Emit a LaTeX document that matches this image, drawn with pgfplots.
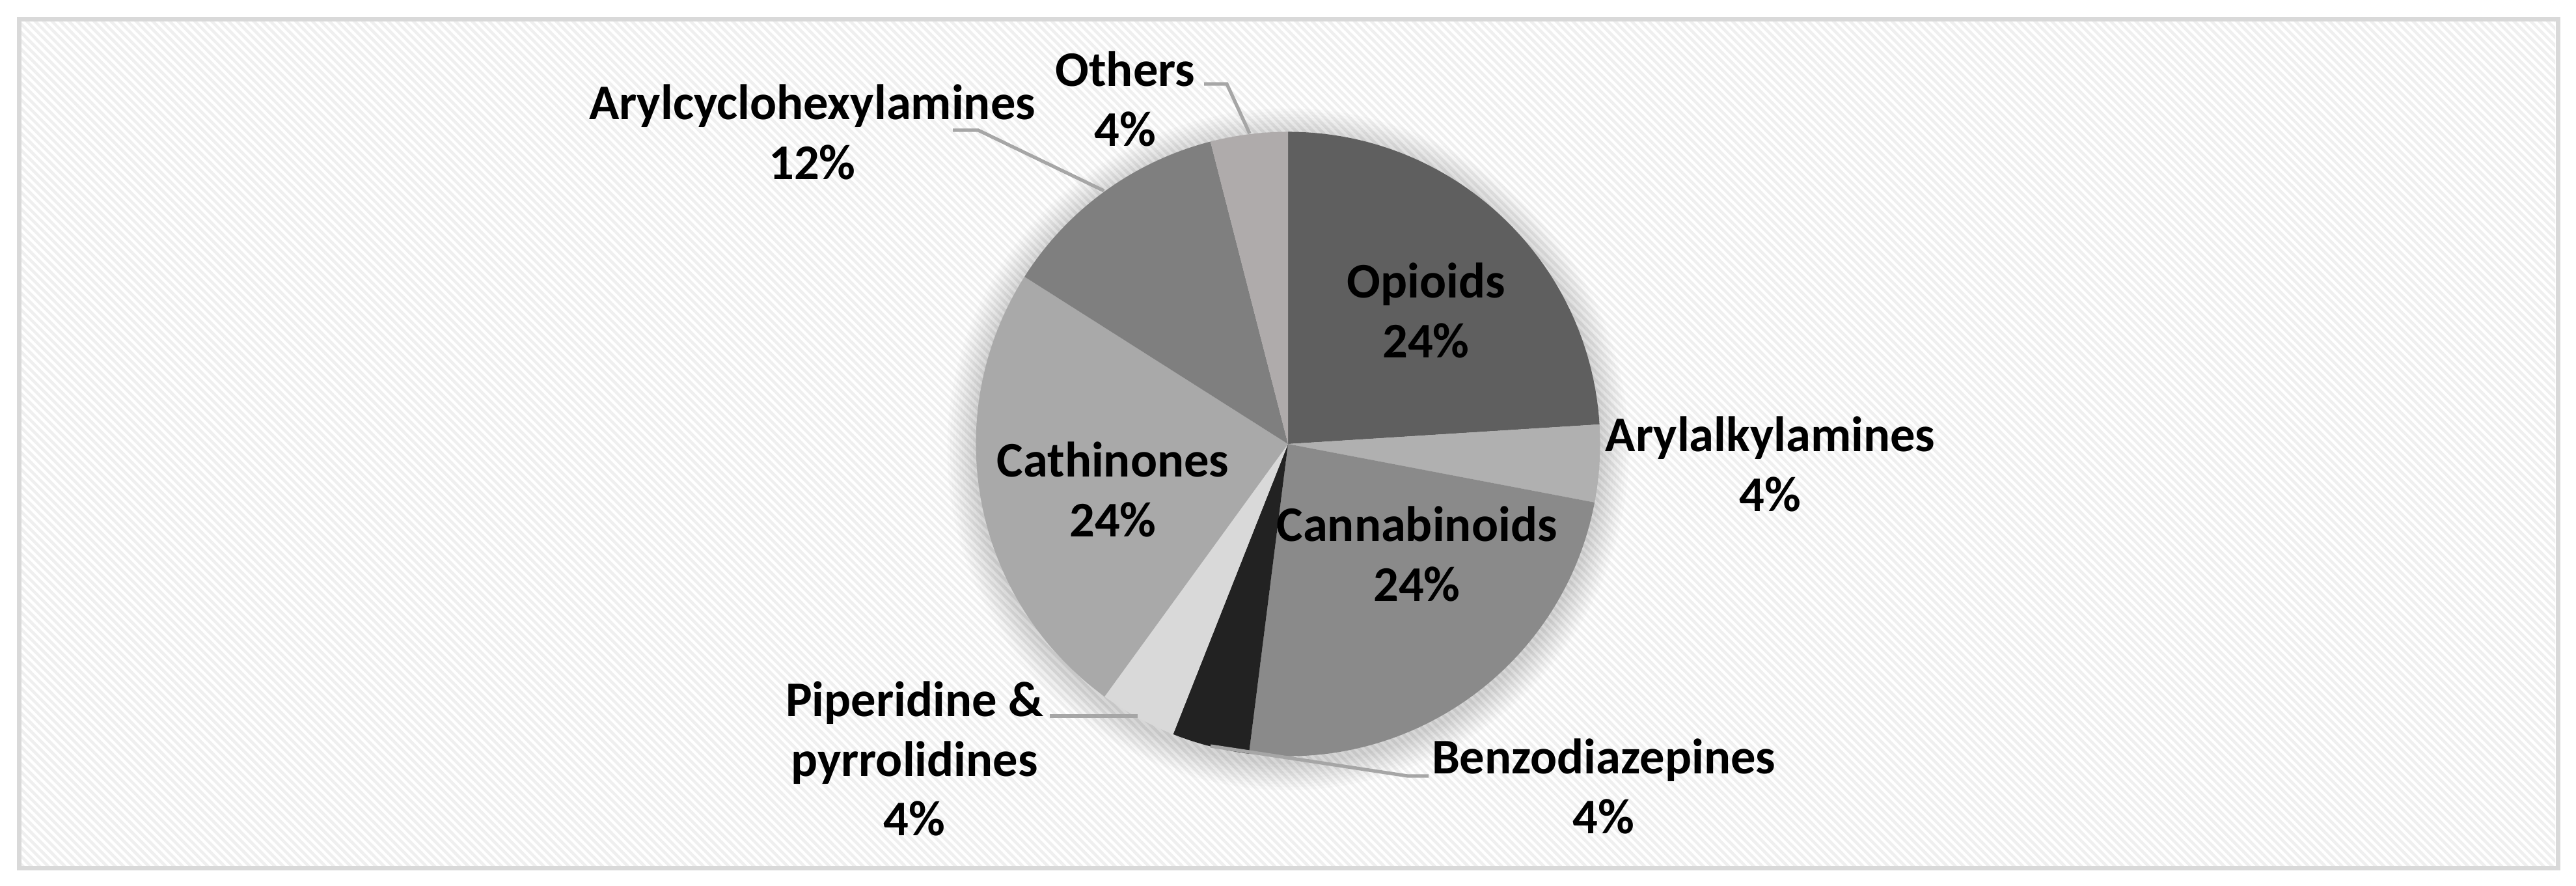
\documentclass[border=0pt]{standalone}
\usepackage{pgfplots}
\pgfplotsset{compat=1.18}
\usepackage{pgfplotstable}
\usepackage{fontspec}
\setmainfont{Carlito}
\usetikzlibrary{patterns.meta}

\definecolor{frame}{HTML}{D9D9D9}
\definecolor{stripe}{HTML}{EFEFEF}
\definecolor{leader}{HTML}{A6A6A6}
% slice fills, in table order
\definecolor{slice0}{HTML}{5F5F5F}
\definecolor{slice1}{HTML}{B0B0B0}
\definecolor{slice2}{HTML}{8A8A8A}
\definecolor{slice3}{HTML}{222222}
\definecolor{slice4}{HTML}{D9D9D9}
\definecolor{slice5}{HTML}{A9A9A9}
\definecolor{slice6}{HTML}{7F7F7F}
\definecolor{slice7}{HTML}{AFABAB}

% share of each class (percent), clockwise from 12 o'clock
\pgfplotstableread[col sep=comma]{
class,value
Opioids,24
Arylalkylamines,4
Cannabinoids,24
Benzodiazepines,4
Piperidine,4
Cathinones,24
Arylcyclohexylamines,12
Others,4
}\piedata

\newcommand{\lab}[4]{%
  \node[anchor=base] at (axis cs:#1,#2) {#3};
  \node[anchor=base] at (axis cs:#1,#2+92) {#4};
}

\begin{document}
\begin{tikzpicture}[font=\fontsize{10.9}{13}\selectfont\bfseries]
\begin{axis}[
    x=0.005cm, y=0.005cm,
    xmin=0, xmax=3958, ymin=0, ymax=1360,
    y dir=reverse,
    scale only axis,
    hide axis,
    clip=false,
]
% background and frame
\fill[white] (axis cs:0,0) rectangle (axis cs:3958,1360);
\fill[pattern={Lines[angle=-45,distance=1.3pt,line width=0.65pt]}, pattern color=stripe]
    (axis cs:33,33) rectangle (axis cs:3926,1330);
\draw[frame, line width=1pt] (axis cs:29.5,29.5) rectangle (axis cs:3930,1333.5);

% soft glow round the pie
\pgfplotsforeachungrouped \k in {1,...,10} {
  \pgfmathsetmacro\rr{2.4+0.022*\k}
  \edef\temp{\noexpand\fill[black, opacity=0.016] (axis cs:1979,690) circle[radius=\rr cm];}
  \temp
}

% slices
\def\angleacc{90}
\pgfplotsforeachungrouped \i in {0,...,7} {
  \pgfplotstablegetelem{\i}{value}\of\piedata
  \pgfmathsetmacro\a{\angleacc}
  \pgfmathsetmacro\b{\angleacc-3.6*\pgfplotsretval}
  \edef\temp{\noexpand\fill[slice\i] (axis cs:1979,682) -- ++(\a:2.4cm)
      arc[start angle=\a, end angle=\b, radius=2.4cm] -- cycle;}
  \temp
  \xdef\angleacc{\b}
}

% leader lines
\draw[leader, line width=0.75pt] (axis cs:1850,129) -- (axis cs:1885,129) -- (axis cs:1920,205);
\draw[leader, line width=0.75pt] (axis cs:1464,200) -- (axis cs:1503,200) -- (axis cs:1696,293);
\draw[leader, line width=0.75pt] (axis cs:1613,1100) -- (axis cs:1748,1100);
\draw[leader, line width=0.75pt] (axis cs:1860,1146) -- (axis cs:2163,1192) -- (axis cs:2195,1192);

% labels
\lab{2191}{457}{Opioids}{24\%}
\lab{2720}{693}{Arylalkylamines}{4\%}
\lab{2177}{831}{Cannabinoids}{24\%}
\lab{2464}{1188}{Benzodiazepines}{4\%}
\lab{1405}{1100}{Piperidine \&}{pyrrolidines}
\node[anchor=base] at (axis cs:1405,1283) {4\%};
\lab{1710}{732}{Cathinones}{24\%}
\lab{1248}{183}{Arylcyclohexylamines}{12\%}
\lab{1729}{132}{Others}{4\%}
\end{axis}
\end{tikzpicture}
\end{document}
